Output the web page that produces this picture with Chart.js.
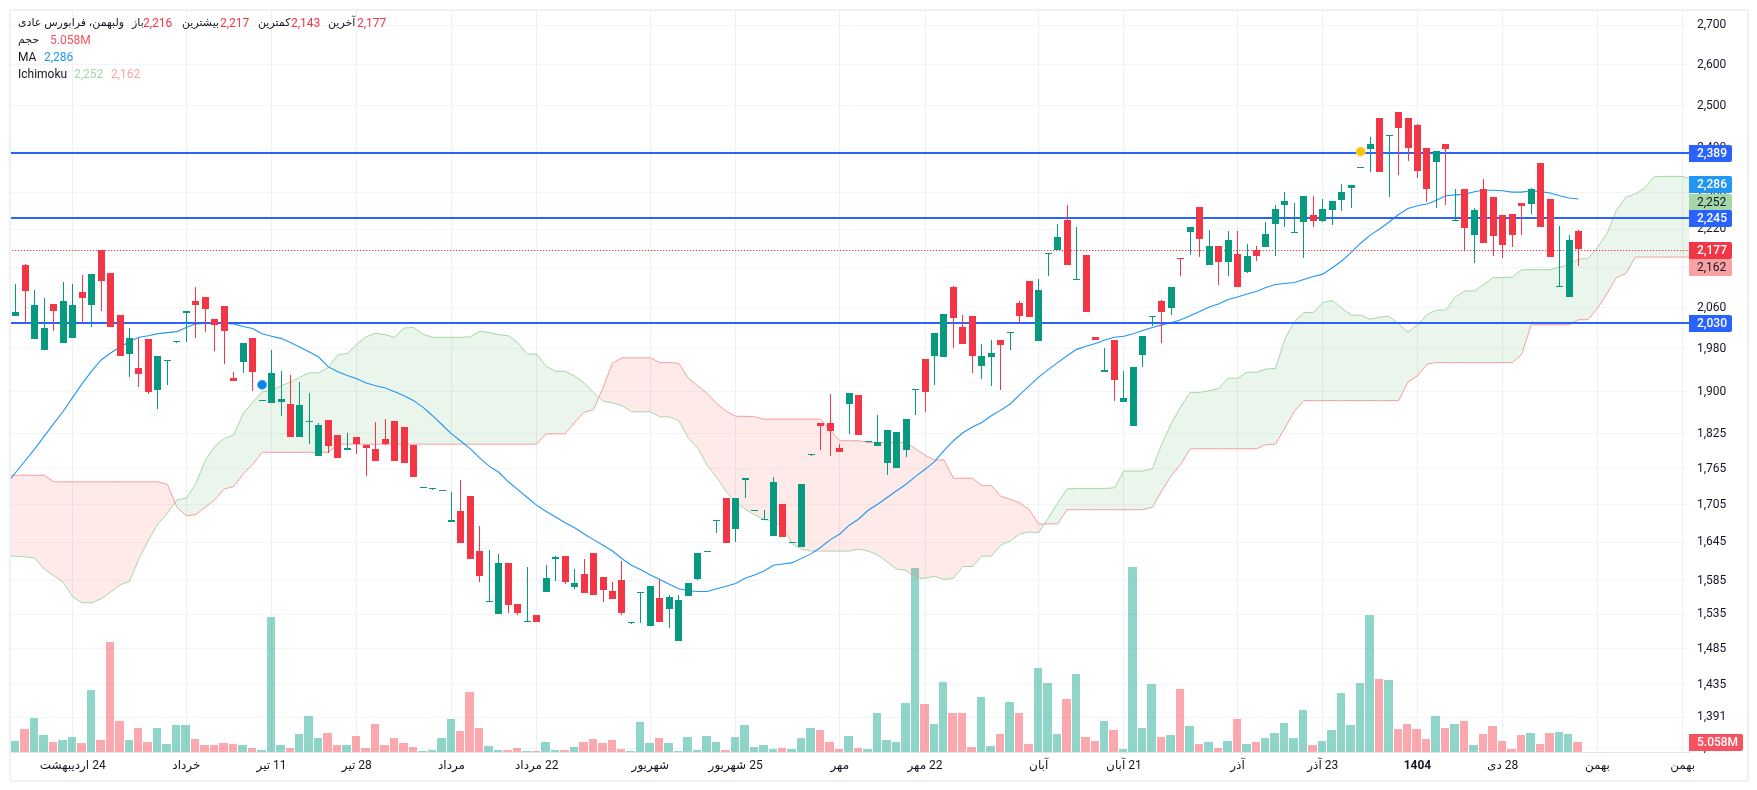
<!DOCTYPE html>
<html lang="fa">
<head>
<meta charset="utf-8">
<title>Chart</title>
<script src="https://cdn.jsdelivr.net/npm/chart.js@4"></script>
<style>
  html, body { margin: 0; padding: 0; background: #fff; width: 1757px; height: 790px; overflow: hidden; }
  canvas { position: absolute; left: 0; top: 0; }
  #frame { position: absolute; left: 9px; top: 9px; width: 1736px; height: 769px; border: 2px solid #f0f1f6; border-radius: 2px; pointer-events: none; }
  .legend { position: absolute; left: 18px; height: 17px; line-height: 17px; font: 12px Roboto, "DejaVu Sans", sans-serif; color: #131722; white-space: nowrap; direction: ltr; }
  .legend span { position: absolute; top: 0; }
  .legend .fa { font-size: 11px; }
  .red { color: #f23645; }
</style>
</head>
<body>
<canvas id="chart" width="1757" height="790" dir="rtl"></canvas>
<div id="frame"></div>
<div class="legend" style="top:16px">
  <span class="fa" style="left:0" dir="rtl">ولبهمن، فرابورس عادی</span>
  <span class="fa" style="left:114px" dir="rtl">باز</span><span class="red" style="left:125px">2,216</span>
  <span class="fa" style="left:164px" dir="rtl">بیشترین</span><span class="red" style="left:202px">2,217</span>
  <span class="fa" style="left:240px" dir="rtl">کمترین</span><span class="red" style="left:273px">2,143</span>
  <span class="fa" style="left:310px" dir="rtl">آخرین</span><span class="red" style="left:339px">2,177</span>
</div>
<div class="legend" style="top:33px">
  <span class="fa" style="left:0" dir="rtl">حجم</span><span style="left:32px;color:#f7525f">5.058M</span>
</div>
<div class="legend" style="top:50px">
  <span style="left:0">MA</span><span style="left:26px;color:#2196f3">2,286</span>
</div>
<div class="legend" style="top:67px">
  <span style="left:0">Ichimoku</span><span style="left:56px;color:#a5d6a7">2,252</span><span style="left:93px;color:#faa1a4">2,162</span>
</div>
<script>
var opens = [
  2042,2145,1997,1976,2066,1990,1999,2090,2064,2176,
  2128,2044,1969,1943,1997,1902,1956,1992,2048,2072,
  2080,2036,2062,1924,1954,1999,1883,1879,1880,1877,
  1819,1845,1786,1849,1822,1796,1819,1805,1798,1815,
  1847,1836,1805,1732,1730,1727,1676,1694,1719,1630,
  1552,1535,1612,1549,1523,1533,1567,1618,1623,1575,
  1595,1627,1590,1569,1586,1521,1566,1517,1558,1542,
  1495,1561,1587,1629,1678,1715,1665,1746,1694,1680,
  1654,1706,1643,1637,1787,1843,1843,1799,1877,1893,
  1810,1803,1773,1766,1796,1902,1959,1965,1963,2100,
  2021,2042,1946,1963,1996,2009,2068,2112,1994,2168,
  2176,2239,2114,2165,2001,1935,1996,1880,1838,1967,
  2040,2072,2058,2159,2214,2267,2144,2184,2151,2167,
  2130,2175,2182,2231,2271,2212,2235,2250,2237,2261,
  2282,2308,2354,2397,2469,2427,2483,2469,2452,2399,
  2367,2409,2237,2306,2207,2306,2289,2250,2252,2276,
  2273,2364,2284,2100,2080,2216
];
var highs = [
  2106,2147,2094,2078,2066,2110,2106,2124,2126,2176,
  2128,2044,2019,1999,1997,1965,1958,1993,2052,2100,
  2080,2036,2062,1935,1990,1999,1884,1976,1937,1930,
  1917,1897,1843,1849,1822,1826,1819,1805,1845,1851,
  1847,1836,1805,1733,1731,1728,1726,1745,1719,1670,
  1632,1626,1612,1549,1605,1533,1609,1623,1623,1602,
  1618,1627,1590,1582,1615,1522,1567,1576,1587,1563,
  1563,1581,1627,1630,1680,1715,1715,1748,1695,1696,
  1750,1706,1644,1738,1788,1843,1895,1806,1897,1893,
  1811,1857,1831,1827,1851,1904,1959,2009,2046,2102,
  2044,2042,1988,1996,1996,2011,2072,2112,2116,2170,
  2231,2271,2225,2165,2001,1980,1996,1937,1944,2003,
  2042,2074,2100,2159,2225,2267,2218,2184,2216,2216,
  2189,2184,2235,2271,2300,2276,2291,2291,2284,2280,
  2317,2315,2355,2425,2469,2429,2483,2469,2455,2399,
  2392,2409,2306,2306,2265,2330,2289,2250,2252,2276,
  2308,2364,2284,2227,2207,2217
];
var lows = [
  2042,2028,1997,1976,2013,1990,1999,2028,2021,2052,
  2021,1965,1926,1908,1896,1868,1911,1992,1993,1999,
  2011,1975,1950,1919,1933,1900,1883,1879,1856,1819,
  1819,1807,1786,1791,1782,1796,1789,1752,1777,1805,
  1777,1773,1750,1732,1730,1727,1676,1643,1618,1583,
  1552,1535,1536,1533,1523,1523,1567,1584,1579,1572,
  1566,1563,1552,1557,1534,1521,1521,1517,1523,1514,
  1495,1561,1586,1629,1659,1643,1644,1715,1694,1680,
  1654,1652,1643,1637,1787,1796,1786,1792,1824,1822,
  1810,1803,1753,1766,1784,1858,1862,1911,1963,1980,
  1988,1933,1922,1909,1902,1976,2028,2040,1994,2122,
  2176,2144,2114,2050,1996,1935,1882,1880,1838,1944,
  2022,1990,2044,2122,2165,2161,2144,2104,2122,2100,
  2128,2153,2182,2163,2225,2212,2159,2225,2234,2229,
  2259,2265,2354,2344,2344,2289,2339,2369,2331,2278,
  2265,2271,2237,2174,2148,2190,2163,2159,2182,2207,
  2252,2225,2161,2100,2080,2143
];
var closes = [
  2050,2092,2064,2019,2052,2072,2064,2078,2126,2112,
  2021,1965,1999,1931,1899,1965,1958,1993,2052,2064,
  2056,2025,2013,1919,1990,1935,1884,1933,1886,1819,
  1875,1847,1840,1803,1782,1799,1806,1799,1777,1806,
  1777,1773,1750,1733,1731,1728,1679,1643,1618,1592,
  1553,1612,1548,1536,1524,1523,1589,1621,1582,1581,
  1566,1563,1570,1557,1536,1522,1567,1576,1523,1560,
  1555,1581,1627,1630,1680,1643,1715,1748,1695,1681,
  1741,1652,1644,1738,1788,1838,1829,1792,1897,1822,
  1811,1810,1831,1827,1851,1904,1899,2009,2046,2038,
  1988,1965,1965,1971,1986,2011,2042,2040,2094,2170,
  2203,2144,2116,2050,1996,1939,1921,1888,1944,2003,
  2042,2050,2100,2157,2225,2199,2184,2151,2197,2100,
  2163,2163,2210,2263,2280,2214,2291,2237,2263,2280,
  2301,2315,2355,2409,2344,2429,2446,2399,2346,2306,
  2392,2397,2239,2222,2261,2190,2206,2187,2207,2269,
  2306,2225,2161,2102,2197,2177
];
var volumes = [
  5.8,12.0,17.8,8.9,5.2,6.3,7.8,4.7,32.4,6.3,
  57.6,16.2,6.3,12.6,5.2,12.6,4.2,14.1,14.1,6.8,
  3.7,3.7,4.7,4.2,3.7,2.1,1.0,70.6,3.7,2.1,
  9.4,18.8,7.3,9.9,3.7,3.7,8.4,2.1,14.6,3.7,
  7.3,4.7,2.6,0.5,1.0,7.3,17.3,11.0,31.4,12.6,
  3.1,1.0,1.0,2.1,0.5,0.5,5.2,1.0,1.0,2.6,
  5.2,6.8,4.7,6.3,1.6,0.5,15.7,4.7,7.3,4.7,
  0.5,7.8,1.0,8.4,5.2,1.0,7.8,14.1,2.6,3.7,
  1.6,2.1,1.6,7.3,12.6,11.5,5.2,1.6,8.4,2.1,
  1.6,20.4,6.3,5.2,25.6,96.3,25.1,14.6,36.6,20.4,
  20.4,2.6,28.8,3.1,9.4,26.2,20.4,4.2,43.9,36.1,
  9.4,27.7,40.8,7.8,5.8,16.2,11.5,1.6,96.8,12.6,
  35.6,7.8,8.9,33.0,13.6,4.2,5.2,2.1,5.8,17.3,
  4.2,5.2,7.3,9.9,15.2,7.3,22.0,3.7,5.8,11.3,
  30.7,14.0,35.9,71.5,38.0,37.5,11.9,14.5,11.9,6.6,
  18.7,12.4,14.5,16.0,3.5,9.2,13.4,5.6,1.4,8.7,
  9.8,4.0,9.8,10.3,9.2,5.058
];
// line series start one bar before the first candle, so they reach the left edge
var movingAverage = [
  1739,
  1759,1779,1799,1821,1843,1865,1890,1915,1938,1959,
  1972,1983,1994,2002,2005,2009,2011,2013,2021,2028,
  2029,2029,2029,2028,2023,2019,2009,2004,2000,1992,
  1983,1974,1964,1946,1937,1930,1924,1916,1911,1907,
  1900,1893,1884,1872,1857,1841,1825,1812,1799,1783,
  1769,1759,1743,1730,1717,1704,1694,1685,1676,1668,
  1658,1649,1640,1631,1619,1609,1602,1594,1587,1580,
  1573,1570,1569,1569,1573,1577,1581,1589,1594,1600,
  1609,1611,1613,1620,1627,1637,1649,1658,1672,1682,
  1696,1706,1717,1728,1739,1752,1764,1777,1796,1813,
  1827,1837,1845,1857,1867,1878,1895,1911,1927,1941,
  1954,1967,1979,1985,1990,1997,2002,2004,2009,2015,
  2021,2026,2030,2036,2044,2052,2061,2067,2076,2081,
  2087,2092,2100,2106,2108,2110,2116,2122,2127,2140,
  2154,2172,2191,2208,2221,2236,2252,2265,2271,2275,
  2283,2293,2295,2296,2302,2305,2305,2304,2301,2301,
  2304,2302,2299,2293,2288,2286
];
var spanA = [
  1623,
  1623,1622,1620,1603,1593,1583,1561,1552,1552,1558,
  1568,1579,1584,1619,1648,1674,1691,1713,1716,1740,
  1779,1803,1817,1823,1861,1881,1900,1902,1911,1918,
  1927,1935,1935,1945,1969,1971,1989,2003,2010,2007,
  2002,2020,2021,2008,2002,2002,2002,2002,2003,2014,
  2011,2007,2005,1992,1970,1970,1947,1938,1938,1929,
  1916,1899,1883,1880,1875,1864,1864,1864,1855,1855,
  1848,1818,1800,1771,1750,1727,1709,1698,1689,1681,
  1679,1669,1642,1634,1631,1631,1631,1631,1631,1634,
  1631,1625,1614,1603,1601,1589,1589,1592,1587,1589,
  1607,1607,1623,1623,1640,1647,1658,1661,1660,1683,
  1708,1731,1732,1732,1732,1732,1733,1761,1761,1761,
  1765,1807,1843,1873,1899,1899,1902,1906,1925,1925,
  1936,1936,1942,1943,1999,2032,2050,2050,2070,2074,
  2059,2045,2045,2037,2041,2043,2028,2012,2026,2046,
  2055,2055,2081,2093,2093,2106,2120,2120,2121,2136,
  2136,2136,2136,2141,2147,2158,2159,2182,2211,2261,
  2290,2297,2310,2335,2336,2336,2336,2329
];
var spanB = [
  1754,
  1754,1754,1754,1754,1743,1743,1743,1743,1743,1743,
  1743,1743,1743,1743,1743,1743,1739,1701,1687,1689,
  1701,1713,1731,1735,1756,1772,1793,1793,1793,1793,
  1793,1793,1793,1793,1807,1807,1807,1807,1807,1807,
  1807,1807,1807,1807,1807,1807,1807,1807,1807,1807,
  1807,1807,1807,1807,1807,1807,1825,1825,1825,1845,
  1863,1868,1908,1953,1963,1963,1963,1963,1954,1954,
  1953,1925,1911,1897,1879,1865,1856,1856,1855,1851,
  1851,1851,1851,1851,1851,1851,1831,1813,1813,1813,
  1810,1810,1810,1810,1810,1799,1788,1780,1780,1749,
  1749,1749,1737,1737,1719,1714,1708,1697,1674,1674,
  1674,1697,1697,1697,1697,1697,1697,1697,1697,1697,
  1701,1728,1753,1772,1799,1799,1799,1799,1799,1799,
  1799,1799,1806,1807,1835,1865,1884,1884,1884,1884,
  1884,1884,1884,1884,1884,1884,1884,1918,1929,1951,
  1954,1954,1954,1954,1954,1954,1954,1954,1954,1969,
  2026,2026,2026,2026,2026,2036,2036,2058,2087,2120,
  2128,2162,2162,2162,2162,2162,2162,2162
];
var levels = [2389, 2245, 2030];
var lastPrice = 2177;

var priceTicks = [2700,2600,2500,2400,2300,2220,2140,2060,1980,1900,1825,1765,1705,1645,1585,1535,1485,1435,1391,1350];
var timeTickBars = [6,18,27,36,46,55,67,76,87,96,108,117,129,138,148,157,167,176];
var timeTickLabels = ['24 اردیبهشت','خرداد','11 تیر','28 تیر','مرداد','22 مرداد','شهریور','25 شهریور','مهر','22 مهر','آبان','21 آبان','آذر','23 آذر','1404','28 دی','بهمن','بهمن'];

var pillValues = [2389, 2286, 2252, 2245, 2177, 2162, 2030];
var pillTexts = ['2,389','2,286','2,252','2,245','2,177','2,162','2,030'];
var pillShifts = [0, -15, -13, 0, 0, 10, 0];
var pillFills = ['#2962ff','#2196f3','#a5d6a7','#2962ff','#f23645','#faa1a4','#2962ff'];
var pillInks = ['#fff','#fff','#131722','#fff','#fff','#131722','#fff'];

var UP = '#089981', DOWN = '#f23645';
var FONT = 'Roboto, "DejaVu Sans", sans-serif';

var barColors = opens.map(function(o, i){ return closes[i] >= o ? UP : DOWN; });
var volColors = opens.map(function(o, i){ return closes[i] >= o ? 'rgba(34,171,148,0.5)' : 'rgba(247,82,95,0.5)'; });

function lineData(values){
  return values.map(function(v, i){ return {x: i - 1, y: v}; });
}
function flatLine(value){
  return [{x: -2, y: value}, {x: 178, y: value}];
}

// whole pixels for the bars and flat lines, so they stay sharp
var snapBars = {
  id: 'snapBars',
  afterDatasetsUpdate: function(chart){
    chart.getSortedVisibleDatasetMetas().forEach(function(meta){
      if (meta.type === 'line') {
        var w = chart.data.datasets[meta.index].snapWidth;
        if (w) meta.data.forEach(function(p){
          p.x = Math.round(p.x);
          p.y = w === 1 ? Math.round(p.y) + 0.5 : Math.round(p.y);
        });
        return;
      }
      var isVol = meta.yAxisID === 'vol';
      var snapY = isVol ? Math.round : Math.floor;
      meta.data.forEach(function(el){
        // volume columns sit a little left of the candle centres in the source
        var cx = isVol ? el.x - 0.75 : el.x;
        var l = Math.round(cx - el.width / 2), r = Math.round(cx + el.width / 2);
        el.x = (l + r) / 2;
        el.width = Math.max(1, r - l);
        var top = snapY(el.y), base = snapY(el.base);
        el.y = top;
        el.base = base === top ? top + 1 : base;
      });
    });
  }
};

var pricePills = {
  id: 'pricePills',
  afterDraw: function(chart){
    var c = chart.ctx, area = chart.chartArea, y = chart.scales.y, vol = chart.scales.vol;
    function pill(cy, w, fill, ink, text){
      var top = Math.ceil(cy - 8.5);
      c.fillStyle = fill;
      c.beginPath();
      c.roundRect(area.right, top, w, 17, [0, 2, 2, 0]);
      c.fill();
      c.fillStyle = ink;
      c.font = (ink === '#fff' ? '500' : '400') + ' 12px ' + FONT;
      c.fillText(text, area.right + 8, top + 9);
    }
    c.save();
    c.direction = 'ltr';
    c.textAlign = 'left';
    c.textBaseline = 'middle';
    pillValues.forEach(function(v, i){
      pill(y.getPixelForValue(v) + pillShifts[i], 43, pillFills[i], pillInks[i], pillTexts[i]);
    });
    pill(vol.getPixelForValue(volumes[volumes.length - 1]) - 0.5, 54, '#f7525f', '#fff', '5.058M');
    c.restore();
  }
};

var datasets = [
  {type:'bar', label:'حجم', yAxisID:'vol', order:9, barThickness:8.47, backgroundColor:volColors,
   data: volumes.map(function(v, i){ return {x:i, y:v}; })},
  {type:'line', label:'Span B', order:8, borderColor:'#faa1a4', borderWidth:1, pointRadius:0, data: lineData(spanB)},
  {type:'line', label:'Span A', order:7, borderColor:'#a5d6a7', borderWidth:1, pointRadius:0,
   fill:{target:1, above:'rgba(67,160,71,0.11)', below:'rgba(244,67,54,0.11)'}, data: lineData(spanA)},
  {type:'line', label:'MA', order:6, borderColor:'#2196f3', borderWidth:1.1, pointRadius:0, data: lineData(movingAverage)},
  {type:'line', label:'last', order:5, borderColor:'#f23645', borderWidth:1, borderDash:[1.3,1.7], pointRadius:0, snapWidth:1, data: flatLine(lastPrice)}
];
levels.forEach(function(v){
  datasets.push({type:'line', label:'level', order:4, borderColor:'#2962ff', borderWidth:2, pointRadius:0, snapWidth:2, data: flatLine(v)});
});
datasets.push(
  {type:'bar', label:'wick', order:3, barThickness:1, backgroundColor:barColors,
   data: lows.map(function(l, i){ return {x:i, y:[l, highs[i]]}; })},
  {type:'bar', label:'body', order:2, barThickness:7, minBarLength:1, backgroundColor:barColors,
   data: opens.map(function(o, i){ return {x:i, y:[o, closes[i]]}; })},
  {type:'line', label:'marker', order:1, showLine:false, pointRadius:4.5, pointBorderWidth:1,
   pointBackgroundColor:'#f7c600', pointBorderColor:'#f7d64d', data:[{x:142, y:2392}]},
  {type:'line', label:'marker', order:1, showLine:false, pointRadius:4.5, pointBorderWidth:1,
   pointBackgroundColor:'#0a84e8', pointBorderColor:'#4aa6f0', data:[{x:26, y:1913}]}
);

var ctx = document.getElementById('chart').getContext('2d');
var chart = new Chart(ctx, {
  type: 'bar',
  data: {datasets: datasets},
  plugins: [snapBars, pricePills],
  options: {
    responsive: false,
    animation: false,
    events: [],
    layout: {padding: {left: 10, top: 10, right: 11, bottom: 10}},
    datasets: {bar: {grouped: false, borderWidth: 0, inflateAmount: 0, borderSkipped: false}},
    elements: {line: {tension: 0}},
    plugins: {legend: {display: false}, tooltip: {enabled: false}, title: {display: false}},
    scales: {
      x: {
        type: 'linear', offset: false,
        min: -0.62, max: 176.67,
        grid: {color: '#eef0f3', offset: false, drawTicks: false},
        border: {color: '#e0e3eb'},
        afterBuildTicks: function(s){ s.ticks = timeTickBars.map(function(v){ return {value: v}; }); },
        afterFit: function(s){ s.height = 28; s.paddingLeft = 0; s.paddingRight = 0; },
        ticks: {
          autoSkip: false, maxRotation: 0, padding: 7, color: '#131722',
          font: function(c){ return {family: FONT, size: 12, weight: c.index === 14 ? 'bold' : 'normal'}; },
          callback: function(v, i){ return timeTickLabels[i]; }
        }
      },
      y: {
        type: 'logarithmic', position: 'right',
        min: 1345.2, max: 2740,
        grid: {color: '#f3f4f6', drawTicks: false},
        border: {display: false},
        afterBuildTicks: function(s){ s.ticks = priceTicks.map(function(v){ return {value: v}; }); },
        afterFit: function(s){ s.width = 57; s.paddingTop = 0; s.paddingBottom = 0; },
        ticks: {
          autoSkip: false, padding: 8, color: '#131722', crossAlign: 'near',
          font: {family: FONT, size: 12},
          callback: function(v){ return v.toLocaleString('en-US'); }
        }
      },
      vol: {type: 'linear', display: false, min: 0, max: 388}
    }
  }
});
</script>
</body>
</html>
